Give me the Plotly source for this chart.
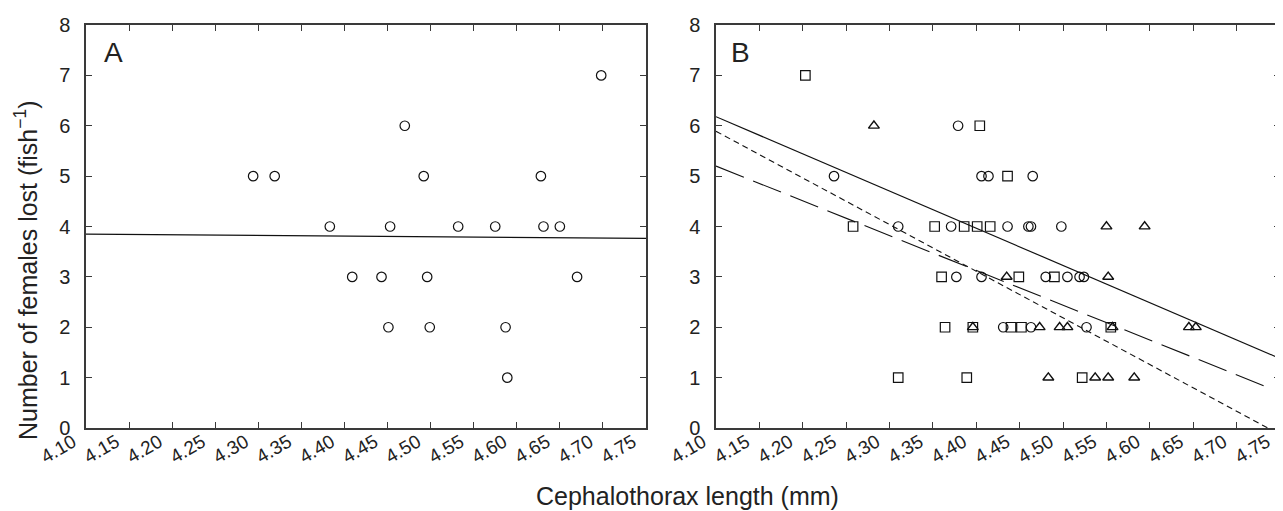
import plotly.graph_objects as go

# ---------------- data ----------------
# Panel A (circles)
a_x = [4.294, 4.319, 4.383, 4.453, 4.470, 4.492, 4.532, 4.575, 4.628, 4.631, 4.650, 4.698,
       4.409, 4.443, 4.496, 4.670, 4.451, 4.499, 4.587, 4.589]
a_y = [5, 5, 4, 4, 6, 5, 4, 4, 5, 4, 4, 7,
       3, 3, 3, 3, 2, 2, 2, 1]
a_line_x = [4.10, 4.75]
a_line_y = [3.85, 3.765]

# Panel B circles
bc_x = [4.379, 4.236, 4.406, 4.414, 4.465,
        4.310, 4.371, 4.436, 4.460, 4.463, 4.498,
        4.377, 4.406, 4.480, 4.505, 4.519, 4.524,
        4.431, 4.463, 4.527]
bc_y = [6, 5, 5, 5, 5,
        4, 4, 4, 4, 4, 4,
        3, 3, 3, 3, 3, 3,
        2, 2, 2]
# Panel B squares
bs_x = [4.203, 4.404, 4.436,
        4.258, 4.352, 4.386, 4.401, 4.416,
        4.360, 4.449, 4.490,
        4.364, 4.396, 4.440, 4.452, 4.555,
        4.310, 4.389, 4.522]
bs_y = [7, 6, 5,
        4, 4, 4, 4, 4,
        3, 3, 3,
        2, 2, 2, 2, 2,
        1, 1, 1]
# Panel B triangles
bt_x = [4.282, 4.550, 4.594, 4.435, 4.552,
        4.396, 4.473, 4.496, 4.505, 4.557, 4.645, 4.653,
        4.483, 4.537, 4.552, 4.582]
bt_y = [6, 4, 4, 3, 3,
        2, 2, 2, 2, 2, 2, 2,
        1, 1, 1, 1]
# Panel B regression lines (endpoints)
b_solid_x = [4.10, 4.75]
b_solid_y = [6.18, 1.38]
b_short_x = [4.10, 4.736]
b_short_y = [5.89, 0.0]
b_long_x = [4.10, 4.737]
b_long_y = [5.20, 0.80]

x_ticks = [4.10, 4.15, 4.20, 4.25, 4.30, 4.35, 4.40, 4.45, 4.50, 4.55, 4.60, 4.65, 4.70, 4.75]
x_tick_text = [f"{v:.2f}" for v in x_ticks]
y_ticks = [0, 1, 2, 3, 4, 5, 6, 7, 8]

x_title = "Cephalothorax length (mm)"
y_title = "Number of females lost (fish<sup>−1</sup>)"
panel_labels = ["A", "B"]

# ---------------- layout helpers ----------------
W, H = 1283, 511
def px(x):
    return x / W
def py(y):
    return 1 - y / H

FONT = "Liberation Sans, Arial, Helvetica, sans-serif"
AX_COL = "#3a3a3a"
TXT_COL = "#222222"

fig = go.Figure()

mk = dict(color="rgba(0,0,0,0)", size=9.5, line=dict(color="#111111", width=1.2))

fig.add_trace(go.Scatter(x=a_x, y=a_y, mode="markers", marker=dict(symbol="circle", **mk),
                         xaxis="x", yaxis="y", showlegend=False))
fig.add_trace(go.Scatter(x=a_line_x, y=a_line_y, mode="lines",
                         line=dict(color="#111111", width=1.2), xaxis="x", yaxis="y", showlegend=False))

fig.add_trace(go.Scatter(x=bc_x, y=bc_y, mode="markers", marker=dict(symbol="circle", **mk),
                         xaxis="x2", yaxis="y2", showlegend=False))
fig.add_trace(go.Scatter(x=bs_x, y=bs_y, mode="markers", marker=dict(symbol="square", **mk),
                         xaxis="x2", yaxis="y2", showlegend=False))
fig.add_trace(go.Scatter(x=bt_x, y=bt_y, mode="markers",
                         marker=dict(symbol="triangle-up", color="rgba(0,0,0,0)", size=9.5,
                                     line=dict(color="#111111", width=1.4)),
                         xaxis="x2", yaxis="y2", showlegend=False))
fig.add_trace(go.Scatter(x=b_solid_x, y=b_solid_y, mode="lines",
                         line=dict(color="#111111", width=1.2), xaxis="x2", yaxis="y2", showlegend=False))
fig.add_trace(go.Scatter(x=b_short_x, y=b_short_y, mode="lines",
                         line=dict(color="#111111", width=1.1, dash="6px,4px"),
                         xaxis="x2", yaxis="y2", showlegend=False))
fig.add_trace(go.Scatter(x=b_long_x, y=b_long_y, mode="lines",
                         line=dict(color="#111111", width=1.1, dash="30px,10px"),
                         xaxis="x2", yaxis="y2", showlegend=False))

xcommon = dict(range=[4.10, 4.75], tickvals=x_ticks, ticktext=x_tick_text, tickangle=-30,
               ticks="inside", ticklen=6, tickcolor=AX_COL, tickwidth=1.2,
               showline=True, linecolor=AX_COL, linewidth=1.5, mirror="ticks",
               showgrid=False, zeroline=False, ticklabelshift=-13, ticklabelstandoff=-6,
               tickfont=dict(family=FONT, size=19, color=TXT_COL), automargin=False)
ycommon = dict(range=[0, 8], tickvals=y_ticks,
               ticks="inside", ticklen=6, tickcolor=AX_COL, tickwidth=1.2,
               showline=True, linecolor=AX_COL, linewidth=1.5, mirror="ticks",
               showgrid=False, zeroline=False, ticklabelstandoff=10,
               tickfont=dict(family=FONT, size=20, color=TXT_COL), automargin=False)

ydom = [py(420), py(17)]
fig.update_layout(
    width=W, height=H,
    margin=dict(l=0, r=0, t=0, b=0),
    paper_bgcolor="white", plot_bgcolor="white",
    xaxis=dict(domain=[px(78), px(638)], anchor="y", **xcommon),
    yaxis=dict(domain=ydom, anchor="x", **ycommon),
    xaxis2=dict(domain=[px(708), px(1272)], anchor="y2", **xcommon),
    yaxis2=dict(domain=ydom, anchor="x2", **ycommon),
    font=dict(family=FONT, color=TXT_COL),
    annotations=[
        dict(text=panel_labels[0], x=px(105), y=py(45), xref="paper", yref="paper",
             xanchor="center", yanchor="middle",
             showarrow=False, font=dict(family=FONT, size=28, color=TXT_COL)),
        dict(text=panel_labels[1], x=px(732), y=py(44), xref="paper", yref="paper",
             xanchor="center", yanchor="middle",
             showarrow=False, font=dict(family=FONT, size=28, color=TXT_COL)),
        dict(text=x_title, x=px(680), y=py(488), xref="paper", yref="paper",
             xanchor="center", yanchor="middle",
             showarrow=False, font=dict(family=FONT, size=25, color=TXT_COL)),
        dict(text=y_title, x=px(18), y=py(262), xref="paper", yref="paper", textangle=-90,
             xanchor="center", yanchor="middle",
             showarrow=False, font=dict(family=FONT, size=25, color=TXT_COL)),
    ],
)

fig.write_html("out.html")
